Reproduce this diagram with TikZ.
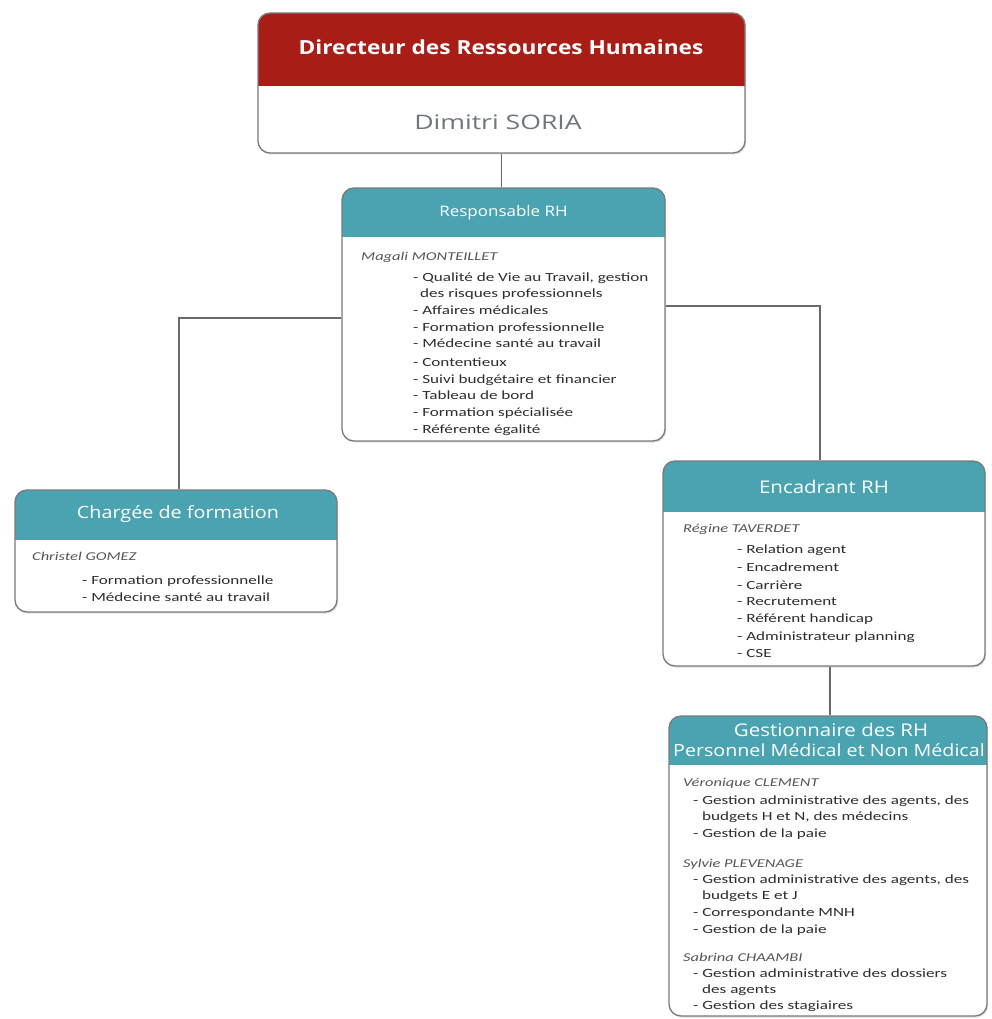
\documentclass[tikz,border=0pt]{standalone}
\usepackage{fontspec}
\setmainfont{Carlito}[FakeStretch=1.37]
\newfontfamily\titlefont{Open Sans}[FakeStretch=1.17]
\newfontfamily\soriafont{Open Sans}[FakeStretch=1.33]
\usetikzlibrary{shadows}
\definecolor{hdred}{HTML}{A81E16}
\definecolor{hdteal}{HTML}{4AA3B0}
\definecolor{bord}{HTML}{7A7A7A}
\definecolor{txt}{HTML}{2E2E2E}
\definecolor{namec}{HTML}{555555}
\definecolor{soria}{HTML}{6E767E}
\definecolor{conn}{HTML}{6A6A6A}
\tikzset{
  card/.style={draw=bord, line width=1.3pt, fill=white, rounded corners=12pt, inner sep=0pt,
    drop shadow={shadow xshift=1.2pt, shadow yshift=-1.5pt, opacity=0.25}},
  hdr/.style 2 args={path picture={\fill[#1, sharp corners] (path picture bounding box.north west) rectangle ([yshift=-#2]path picture bounding box.north east);}},
  conline/.style={draw=conn, line width=1.3pt},
  ttl/.style={font=\titlefont\fontsize{17.5}{20}\selectfont, text=white},
  nm/.style={anchor=base west, inner sep=0pt, font=\itshape\fontsize{12}{14}\selectfont, text=namec},
  it/.style={anchor=base west, inner sep=0pt, font=\fontsize{12.5}{14}\selectfont, text=txt},
}
\begin{document}
\begin{tikzpicture}[x=1pt,y=-1pt]
\fill[white] (0,0) rectangle (991,1019);
\useasboundingbox (0,0) rectangle (991,1019);

% boxes
\node[card, hdr={hdred}{73pt}, minimum width=487pt, minimum height=140pt] (dir) at (501.5,83) {};
\node[card, hdr={hdteal}{49pt}, minimum width=323pt, minimum height=253pt] (resp) at (503.5,314.5) {};
\node[card, hdr={hdteal}{50pt}, minimum width=322pt, minimum height=122pt] (chg) at (176,551) {};
\node[card, hdr={hdteal}{51pt}, minimum width=322pt, minimum height=205pt] (enc) at (824,563.5) {};
\node[card, hdr={hdteal}{49pt}, minimum width=318pt, minimum height=300pt] (gest) at (828,866) {};

% connectors
\draw[conline] (dir.south) -- (dir.south |- resp.north);
\draw[conline] ([yshift=-3.5pt]resp.west) -| ([xshift=3pt]chg.north);
\draw[conline] ([yshift=8.5pt]resp.east) -| ([xshift=-4pt]enc.north);
\draw[conline] ([xshift=6pt]enc.south) -- ([xshift=6pt]enc.south |- gest.north);

% director
\node[font=\titlefont\bfseries\fontsize{19.4}{22}\selectfont, text=white] (dirt) at (501,47) {Directeur des Ressources Humaines};
\node[font=\soriafont\fontsize{20}{24}\selectfont, text=soria] (dirn) at (498,122) {Dimitri SORIA};

% responsable
\node[ttl, font=\titlefont\fontsize{14.5}{16}\selectfont] (respt) at (503.5,213) {Responsable RH};
\node[nm] (respn) at (361,260) {Magali MONTEILLET};
\foreach \i/\x/\y/\t in {1/413/281/{- Qualité de Vie au Travail, gestion},
  2/420/297/{des risques professionnels},
  3/413/314/{- Affaires médicales},
  4/413/331/{- Formation professionnelle},
  5/413/347/{- Médecine santé au travail},
  6/413/366/{- Contentieux},
  7/413/383/{- Suivi budgétaire et financier},
  8/413/399/{- Tableau de bord},
  9/413/416/{- Formation spécialisée},
  10/413/433/{- Référente égalité}}
  \node[it] (r\i) at (\x,\y) {\t};

% chargee
\node[ttl, font=\titlefont\fontsize{16.9}{20}\selectfont] (chgt) at (178,514) {Chargée de formation};
\node[nm] (chgn) at (32,560) {Christel GOMEZ};
\node[it] (c1) at (82,584) {- Formation professionnelle};
\node[it] (c2) at (82,601) {- Médecine santé au travail};

% encadrant
\node[ttl] (enct) at (824,487) {Encadrant RH};
\node[nm] (encn) at (683,532) {Régine TAVERDET};
\foreach \i/\y/\t in {1/553/{- Relation agent}, 2/571/{- Encadrement}, 3/589/{- Carrière},
  4/605/{- Recrutement}, 5/622/{- Référent handicap}, 6/640/{- Administrateur planning}, 7/657/{- CSE}}
  \node[it] (e\i) at (737,\y) {\t};

% gestionnaire
\node[ttl] (gt1) at (831,730) {Gestionnaire des RH};
\node[ttl, anchor=west, inner sep=0pt, font=\titlefont\fontsize{16.8}{20}\selectfont] (gt2) at (673,750) {Personnel Médical et Non Médical};
\node[nm] (g1) at (683,786) {Véronique CLEMENT};
\node[nm] (g2) at (683,867) {Sylvie PLEVENAGE};
\node[nm] (g3) at (683,961) {Sabrina CHAAMBI};
\foreach \i/\x/\y/\t in {1/693/804/{- Gestion administrative des agents, des},
  2/702/820/{budgets H et N, des médecins},
  3/693/837/{- Gestion de la paie},
  4/693/883/{- Gestion administrative des agents, des},
  5/702/899/{budgets E et J},
  6/693/916/{- Correspondante MNH},
  7/693/933/{- Gestion de la paie},
  8/693/977/{- Gestion administrative des dossiers},
  9/702/993/{des agents},
  10/693/1009/{- Gestion des stagiaires}}
  \node[it] (gl\i) at (\x,\y) {\t};
\end{tikzpicture}
\end{document}
